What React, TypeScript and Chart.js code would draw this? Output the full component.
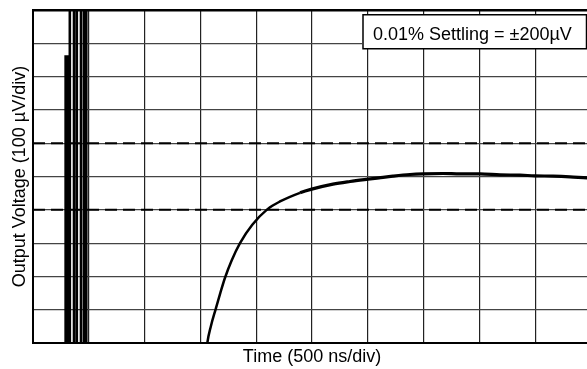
import { useEffect, useRef } from "react";
import { Chart, registerables } from "chart.js";

Chart.register(...registerables);

// Settling trace (x in divisions of 500 ns, y in divisions of 100 µV)
const curveX = [3.1, 3.124, 3.19, 3.274, 3.36, 3.441, 3.56, 3.71, 3.93, 4.203, 4.427, 4.785, 4.995, 5.376, 5.681, 6.004, 6.2, 6.45, 6.756, 6.989, 7.348, 7.652, 8.011, 8.369, 8.728, 8.996, 9.319, 9.624, 9.928, 10.1];
const curveY = [-0.4, 0, 0.52, 1.02, 1.52, 1.96, 2.48, 3.0, 3.55, 4.02, 4.25, 4.51, 4.62, 4.77, 4.85, 4.92, 4.96, 5.01, 5.06, 5.08, 5.09, 5.08, 5.08, 5.05, 5.04, 5.02, 5.01, 4.99, 4.96, 4.95];

// Input step ringing (off-scale spikes)
const spikeX = [0.585, 0.585, 0.615, 0.615, 0.66, 0.66, 0.735, 0.735, 0.785, 0.785, 0.86, 0.86, 0.915, 0.915, 0.955, 0.955];
const spikeY = [-1, 8.6, 8.6, -1, -1, 11, 11, -1, -1, 11, 11, -1, -1, 11, 11, -1];

// Settling band limits
const limitX = [0, 10];
const limitLevels = [4, 6];

const xTitle = "Time (500 ns/div)";
const yTitle = "Output Voltage (100 µV/div)";
const boxText = "0.01% Settling = ±200µV";

const FONT = "'Liberation Sans', Arial, Helvetica, sans-serif";

export default function App() {
  const ref = useRef<HTMLCanvasElement>(null);

  useEffect(() => {
    const canvas = ref.current;
    if (!canvas) return;
    Chart.defaults.font.family = FONT;

    const boxPlugin = {
      id: "settleBox",
      afterDraw(chart: any) {
        const c = chart.ctx as CanvasRenderingContext2D;
        c.save();
        c.fillStyle = "#fff";
        c.fillRect(362, 14, 226, 35);
        c.lineWidth = 1.5;
        c.strokeStyle = "#000";
        c.strokeRect(363, 14.75, 223.5, 34);
        c.font = `18px ${FONT}`;
        c.fillStyle = "#000";
        c.textBaseline = "alphabetic";
        c.textAlign = "left";
        c.fillText(boxText, 373, 39.5);
        c.restore();
      },
    };

    const limitSets = limitLevels.map((lv) => ({
      label: `limit ${lv}`,
      data: limitX.map((x) => ({ x, y: lv })),
      borderColor: "#000",
      borderWidth: 2,
      borderDash: [12, 6],
      pointRadius: 0,
      fill: false,
    }));

    const chart = new Chart(canvas, {
      type: "line",
      data: {
        datasets: [
          ...limitSets,
          {
            label: "ringing",
            data: spikeX.map((x, i) => ({ x, y: spikeY[i] })),
            borderColor: "#000",
            borderWidth: 2.6,
            pointRadius: 0,
            tension: 0,
            fill: false,
          },
          {
            label: "output",
            data: curveX.map((x, i) => ({ x, y: curveY[i] })),
            borderColor: "#000",
            borderWidth: 2.5,
            pointRadius: 0,
            cubicInterpolationMode: "monotone",
            fill: false,
            segment: {
              borderWidth: (ctx: any) => (ctx.p0.parsed.x > 4.6 ? 3.2 : 2.5),
            },
          } as any,
        ],
      },
      options: {
        animation: false,
        responsive: false,
        devicePixelRatio: 1,
        layout: { padding: { left: 0, top: 10, right: 9, bottom: 0.7 } },
        plugins: {
          legend: { display: false },
          tooltip: { enabled: false },
        },
        scales: {
          x: {
            type: "linear",
            min: 0,
            max: 10,
            ticks: { display: false, stepSize: 1 },
            grid: { color: "#222", lineWidth: 1.2, drawTicks: false },
            border: { display: true, color: "#000", width: 2 },
            title: {
              display: true,
              text: xTitle,
              color: "#000",
              font: { size: 18, family: FONT },
              padding: { top: 3.7, bottom: 0 },
            },
          },
          y: {
            type: "linear",
            min: 0,
            max: 10,
            ticks: { display: false, stepSize: 1 },
            grid: {
              color: (ctx: any) => (ctx.tick && ctx.tick.value === 10 ? "#000" : "#444"),
              lineWidth: (ctx: any) => (ctx.tick && ctx.tick.value === 10 ? 2.5 : 1.2),
              drawTicks: false,
            },
            border: { display: true, color: "#000", width: 2 },
            title: {
              display: true,
              text: yTitle,
              color: "#000",
              font: { size: 18, family: FONT },
              padding: { top: 9.2, bottom: 2.2 },
            },
          },
        },
      },
      plugins: [boxPlugin],
    });

    return () => chart.destroy();
  }, []);

  return (
    <div
      style={{
        position: "fixed",
        left: 0,
        top: 0,
        width: 587,
        height: 369,
        overflow: "hidden",
        background: "#fff",
      }}
    >
      <canvas ref={ref} width={600} height={369} style={{ display: "block", width: 600, height: 369 }} />
    </div>
  );
}
